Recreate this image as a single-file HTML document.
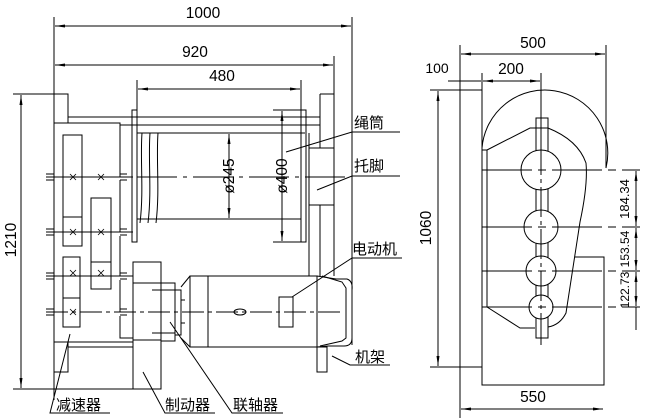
<!DOCTYPE html>
<html><head><meta charset="utf-8"><style>
html,body{margin:0;padding:0;background:#fff;}
svg{display:block;}
text{font-family:"Liberation Sans","Noto Sans CJK SC",sans-serif;fill:#000;}
</style></head><body>
<svg width="648" height="418" viewBox="0 0 648 418" xmlns="http://www.w3.org/2000/svg">
<defs>
<marker id="a" viewBox="0 0 10 4" refX="10" refY="2" markerWidth="10" markerHeight="4" orient="auto-start-reverse" markerUnits="userSpaceOnUse"><path d="M0,0.5 L10,2 L0,3.5Z" fill="#000"/></marker>
</defs>
<g stroke="#000" stroke-width="1" fill="none">
<!-- top dims left -->
<line x1="54" y1="17" x2="54" y2="400"/>
<line x1="352" y1="17" x2="352" y2="345"/>
<line x1="334" y1="56" x2="334" y2="95"/>
<line x1="137" y1="80" x2="137" y2="110"/>
<line x1="301" y1="80" x2="301" y2="110"/>
<line x1="55" y1="26" x2="351" y2="26" marker-start="url(#a)" marker-end="url(#a)"/>
<line x1="55" y1="65" x2="333" y2="65" marker-start="url(#a)" marker-end="url(#a)"/>
<line x1="138" y1="89" x2="300" y2="89" marker-start="url(#a)" marker-end="url(#a)"/>
<!-- 1210 -->
<line x1="13" y1="94" x2="68" y2="94"/>
<line x1="13" y1="389" x2="160" y2="389"/>
<line x1="21" y1="95" x2="21" y2="388" marker-start="url(#a)" marker-end="url(#a)"/>
<!-- housing -->
<path d="M54,94 H68 V123 M54,123 H120 V177 M68,117 H320 M120,125 H320 M137,133 H305"/>
<path d="M120,180 V232 M120,236 V276 M120,280 V312 M120,316 V338 H133"/>
<path d="M54,342 H133 M54,342 V372 H68 V342 M68,347 H133"/>
<rect x="63" y="135" width="19" height="111"/><line x1="63" y1="217" x2="82" y2="217"/>
<rect x="91" y="198" width="20" height="91"/><line x1="91" y1="262" x2="111" y2="262"/>
<rect x="63" y="257" width="17" height="70"/><line x1="63" y1="298" x2="80" y2="298"/>
<path d="M46,174 H54 M46,177 H133 M46,180 H54 M120,174 H127 M120,180 H127"/>
<path d="M46,229 H54 M46,232 H133 M46,235 H54 M120,229 H127 M120,235 H127"/>
<path d="M46,273 H54 M46,276 H133 M46,279 H54 M120,273 H127 M120,279 H127"/>
<path d="M46,309 H54 M46,315 H54 M120,309 H127 M120,315 H127"/>
<line x1="46" y1="312" x2="340" y2="312" stroke-dasharray="22,4,4,4"/>
<line x1="137" y1="177" x2="345" y2="177" stroke-dasharray="40,6,4,6"/>
<g stroke-width="0.8"><path d="M70,174 l6,6 M76,174 l-6,6 M98,174 l6,6 M104,174 l-6,6 M70,229 l6,6 M76,229 l-6,6 M98,229 l6,6 M104,229 l-6,6 M70,309 l6,6 M76,309 l-6,6 M98,270 l6,6 M104,270 l-6,6 M70,270 l6,6 M76,270 l-6,6"/></g>
<!-- drum -->
<rect x="132" y="110" width="5" height="132"/>
<rect x="301" y="110" width="5" height="132"/>
<line x1="137" y1="219" x2="301" y2="219"/>
<path d="M142,133 C140,160 144,190 140,223 M150,133 C148,160 152,190 148,223 M158,133 C156,160 160,190 156,223"/>
<line x1="273" y1="110" x2="302" y2="110"/>
<line x1="273" y1="242" x2="302" y2="242"/>
<line x1="282" y1="111" x2="282" y2="241" marker-start="url(#a)" marker-end="url(#a)"/>
<line x1="229" y1="134" x2="229" y2="218" marker-start="url(#a)" marker-end="url(#a)"/>
<!-- right support -->
<path d="M320,94 H334 V276 M320,94 V148 M309,148 H334 M309,133 V276 M309,205 H334 M320,205 V276 M306,125 H309"/>
<!-- brake, coupling, motor -->
<rect x="133" y="262" width="28" height="127"/>
<path d="M133,283 H161 M133,340 H161"/>
<rect x="161" y="283" width="14" height="58"/>
<path d="M152,290 H175 M152,333 H175"/>
<path d="M175,290 H181 V335 H175 M181,287 L190,276 M181,338 L190,347 M181,300 H185 M181,323 H185"/>
<rect x="190" y="276" width="127" height="71"/>
<line x1="208" y1="276" x2="208" y2="347"/>
<path d="M317,276 L336,279 L347,279 Q353,281 352,290 V338 Q352,346 344,346 L328,346 L317,347"/>
<path d="M322,276 L342,282 L346,288 V338 L342,341 L320,346"/>
<rect x="279" y="297" width="14" height="30"/>
<ellipse cx="240" cy="312" rx="6" ry="3"/>
<rect x="317" y="347" width="10" height="25"/>
<!-- leaders -->
<path d="M286,152 L352,132 H400 M317,190 L352,176 H400 M292,297 L352,258 H402 M332,356 L350,365 H390"/>
<path d="M70,334 L50,413 H110 M143,372 L165,413 H215 M170,322 L232,413 H283"/>
</g>
<g font-size="15.5">
<text x="203" y="18" text-anchor="middle">1000</text>
<text x="195" y="57" text-anchor="middle">920</text>
<text x="222" y="81" text-anchor="middle">480</text>
<text transform="translate(16,240) rotate(-90)" text-anchor="middle">1210</text>
<text transform="translate(234,176) rotate(-90)" text-anchor="middle">ø245</text>
<text transform="translate(287,176) rotate(-90)" text-anchor="middle">ø400</text>
</g>
<g font-size="15">
<text x="354" y="128">绳筒</text>
<text x="354" y="171">托脚</text>
<text x="352" y="254">电动机</text>
<text x="355" y="362">机架</text>
<text x="56" y="410">减速器</text>
<text x="165" y="410">制动器</text>
<text x="233" y="410">联轴器</text>
</g>
<!-- right view -->
<g stroke="#000" stroke-width="1" fill="none">
<line x1="460" y1="45" x2="460" y2="418"/>
<line x1="606" y1="45" x2="606" y2="168"/>
<line x1="482" y1="73" x2="482" y2="90"/>
<line x1="541" y1="73" x2="541" y2="345"/>
<line x1="461" y1="54" x2="605" y2="54" marker-start="url(#a)" marker-end="url(#a)"/>
<line x1="448" y1="81" x2="460" y2="81"/>
<line x1="483" y1="81" x2="540" y2="81" marker-start="url(#a)" marker-end="url(#a)"/>
<line x1="460" y1="81" x2="481" y2="81"/>
<line x1="430" y1="90" x2="482" y2="90"/>
<line x1="430" y1="367" x2="482" y2="367"/>
<line x1="438" y1="91" x2="438" y2="366" marker-start="url(#a)" marker-end="url(#a)"/>
<path d="M482,90 V385 H604 V257 H575"/>
<path d="M482,148 A63,63 0 1 1 606,168"/>
<path d="M487,150 V307 M482,150 H487 M487,150 L530,128 H548 Q578,140 586,163 Q588,185 580,222 L566,313 Q560,325 548,327 M487,307 L520,328 H535"/>
<rect x="536" y="118" width="12" height="220"/>
<circle cx="541" cy="170" r="20" fill="#fff"/>
<circle cx="541" cy="227" r="17" fill="#fff"/>
<circle cx="541" cy="271" r="15" fill="#fff"/>
<circle cx="541" cy="307" r="12" fill="#fff"/>
<line x1="541" y1="145" x2="541" y2="345" stroke-dasharray="30,4,4,4"/>
<line x1="482" y1="170" x2="640" y2="170" stroke-dasharray="50,6,8,6"/>
<line x1="482" y1="227" x2="640" y2="227" stroke-dasharray="50,6,8,6"/>
<line x1="482" y1="271" x2="640" y2="271" stroke-dasharray="50,6,8,6"/>
<line x1="482" y1="307" x2="640" y2="307" stroke-dasharray="50,6,8,6"/>
<line x1="636" y1="171" x2="636" y2="226" marker-start="url(#a)" marker-end="url(#a)"/>
<line x1="636" y1="228" x2="636" y2="270" marker-start="url(#a)" marker-end="url(#a)"/>
<line x1="636" y1="272" x2="636" y2="306" marker-start="url(#a)" marker-end="url(#a)"/>
<line x1="636" y1="307" x2="636" y2="330"/>
<line x1="461" y1="409" x2="603" y2="409" marker-start="url(#a)" marker-end="url(#a)"/>
</g>
<g font-size="15.5">
<text x="533" y="48" text-anchor="middle">500</text>
<text x="437" y="73" text-anchor="middle" font-size="14">100</text>
<text x="511" y="74" text-anchor="middle">200</text>
<text transform="translate(431,228) rotate(-90)" text-anchor="middle">1060</text>
<text x="533" y="402" text-anchor="middle">550</text>
<text transform="translate(629,199) rotate(-90)" text-anchor="middle" font-size="13">184.34</text>
<text transform="translate(629,249) rotate(-90)" text-anchor="middle" font-size="12">153.54</text>
<text transform="translate(629,290) rotate(-90)" text-anchor="middle" font-size="12">122.73</text>
</g>
</svg>
</body></html>
